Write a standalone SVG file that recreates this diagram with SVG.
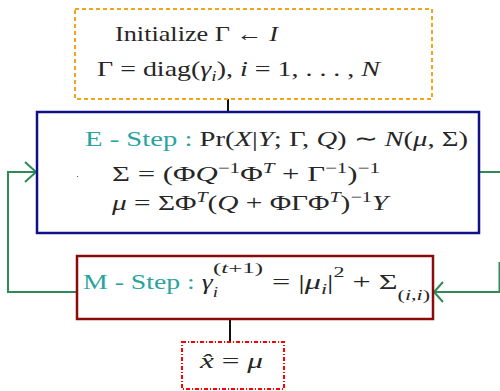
<svg xmlns="http://www.w3.org/2000/svg" width="500" height="391" viewBox="0 0 500 391" font-family="'Liberation Serif','Times New Roman',serif">
<style>
text{font-family:"Liberation Serif","Times New Roman",serif;fill:#262626;font-size:22px}
.it{font-style:italic}
.teal{fill:#2aa3a0}
.sm{font-size:15px}
.box{fill:#fff}
.conn{fill:none;stroke-width:2}
.g{stroke:#2e8b57}
.k{stroke:#111}
</style>
<rect width="500" height="391" fill="#fff"/>
<g id="connectors">
<line class="conn k" x1="228" y1="99" x2="228" y2="112"/>
<line class="conn k" x1="230" y1="319" x2="230" y2="342"/>
<path class="conn g" d="M77,292 H8 V172 H36"/>
<polyline class="conn g" points="25,162 36,172 25,182"/>
<path class="conn g" d="M479,172 H501"/>
<path class="conn g" d="M499.5,262 V292 H434"/>
<polyline class="conn g" points="443,282 434,292 443,302"/>
</g>
<g id="init">
<rect class="box" x="75" y="9" width="357" height="90" stroke="#f5a31a" stroke-width="2" stroke-dasharray="4,3"/>
<text x="115" y="41" font-size="23" textLength="163" lengthAdjust="spacingAndGlyphs">Initialize Γ ← <tspan class="it">I</tspan></text>
<text x="97" y="76" font-size="23" textLength="283" lengthAdjust="spacingAndGlyphs">Γ = diag(<tspan class="it">γ</tspan><tspan class="it sm" dy="5">i</tspan><tspan dy="-5">), </tspan><tspan class="it">i</tspan> = 1, . . . , <tspan class="it">N</tspan></text>
</g>
<g id="estep">
<rect class="box" x="37" y="112" width="442" height="121" stroke="#101089" stroke-width="2.5"/>
<rect x="77" y="176" width="1" height="1" fill="#555"/>
<text x="85" y="146" textLength="383" lengthAdjust="spacingAndGlyphs"><tspan class="teal">E - Step : </tspan>Pr(<tspan class="it">X</tspan>|<tspan class="it">Y</tspan>; Γ, <tspan class="it">Q</tspan>) ∼ <tspan class="it">N</tspan>(<tspan class="it">μ</tspan>, Σ)</text>
<text x="112" y="181" font-size="21" textLength="268" lengthAdjust="spacingAndGlyphs">Σ = (Φ<tspan class="it">Q</tspan><tspan class="sm" dy="-8">−1</tspan><tspan dy="8">Φ</tspan><tspan class="it sm" dy="-8">T</tspan><tspan dy="8"> + Γ</tspan><tspan class="sm" dy="-8">−1</tspan><tspan dy="8">)</tspan><tspan class="sm" dy="-8">−1</tspan></text>
<text x="112" y="210" font-size="21" textLength="276" lengthAdjust="spacingAndGlyphs"><tspan class="it">μ</tspan> = ΣΦ<tspan class="it sm" dy="-8">T</tspan><tspan dy="8">(</tspan><tspan class="it">Q</tspan> + ΦΓΦ<tspan class="it sm" dy="-8">T</tspan><tspan dy="8">)</tspan><tspan class="sm" dy="-8">−1</tspan><tspan class="it" dy="8">Y</tspan></text>
</g>
<g id="mstep">
<rect class="box" x="77" y="256" width="356" height="63" stroke="#8b0a0a" stroke-width="2.5"/>
<text x="83" y="289" textLength="135" lengthAdjust="spacingAndGlyphs"><tspan class="teal">M - Step : </tspan><tspan class="it">γ</tspan><tspan class="it sm" dy="8">i</tspan></text>
<text x="213" y="273" class="sm" textLength="50" lengthAdjust="spacingAndGlyphs">(<tspan class="it">t</tspan>+1)</text>
<text x="272" y="289" textLength="158" lengthAdjust="spacingAndGlyphs">= |<tspan class="it">μ</tspan><tspan class="it sm" dy="5">i</tspan><tspan dy="-5">|</tspan><tspan class="sm" dy="-12">2</tspan><tspan dy="12"> + Σ</tspan><tspan class="sm" dy="11">(<tspan class="it">i</tspan>,<tspan class="it">i</tspan>)</tspan></text>
</g>
<g id="result">
<rect class="box" x="182" y="342" width="102" height="47" stroke="#ff0000" stroke-width="2" stroke-dasharray="4,2,1,2"/>
<text x="200" y="368" textLength="63" lengthAdjust="spacingAndGlyphs"><tspan class="it">x̂</tspan> = <tspan class="it">μ</tspan></text>
</g>
</svg>
